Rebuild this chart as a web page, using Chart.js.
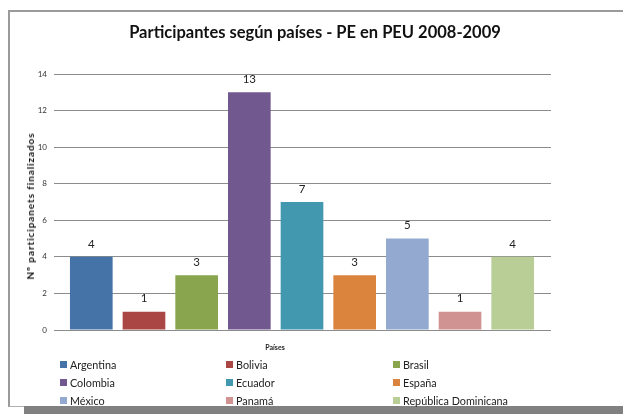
<!DOCTYPE html>
<html>
<head>
<meta charset="utf-8">
<script src="https://cdn.jsdelivr.net/npm/chart.js@4/dist/chart.umd.min.js"></script>
<style>
  html, body { margin: 0; padding: 0; background: #fff; }
  #wrap { position: relative; width: 623px; height: 414px; overflow: hidden; font-family: Lato, "Open Sans", sans-serif; }
  #frame { position: absolute; left: 8px; top: 10px; width: 640px; height: 394px; border-left: 2px solid #9a9a9a; border-top: 2px solid #9a9a9a; border-bottom: 1px solid #b0b0b0; }
  #shadow { position: absolute; left: 24px; top: 406px; width: 620px; height: 8px; background: #808080; }
  canvas { position: absolute; left: 0; top: 0; }
  #title { position: absolute; left: 15px; width: 600px; top: 21px; text-align: center; font-weight: bold; font-size: 16.5px; line-height: 22px; color: #111; white-space: nowrap; }
  #ytitle { position: absolute; left: 30px; top: 206px; transform: translate(-50%, -50%) rotate(-90deg); font-weight: bold; font-size: 10px; letter-spacing: 0.9px; color: #111; white-space: nowrap; }
  #xtitle { position: absolute; left: 275px; top: 347px; transform: translate(-50%, -50%); font-weight: bold; font-size: 7px; color: #222; white-space: nowrap; }
  #legend { position: absolute; left: 60px; top: 355px; display: grid; grid-template-columns: 166px 167px 167px; grid-auto-rows: 18px; }
  .item { display: flex; align-items: center; font-size: 10.8px; color: #222; }
  .sw { width: 7px; height: 7px; margin-right: 3px; flex: none; }
</style>
</head>
<body>
<div id="wrap">
  <div id="frame"></div>
  <div id="shadow"></div>
  <canvas id="c" width="623" height="414"></canvas>
  <div id="title"></div>
  <div id="ytitle"></div>
  <div id="xtitle"></div>
  <div id="legend"></div>
</div>
<script>
const countries = ["Argentina", "Bolivia", "Brasil", "Colombia", "Ecuador", "España", "México", "Panamá", "República Dominicana"];
const participants = [4, 1, 3, 13, 7, 3, 5, 1, 4];
const colors = ["#4572A7", "#AA4643", "#89A54E", "#71588F", "#4198AF", "#DB843D", "#93A9CF", "#D19392", "#B9CD96"];
const yTicks = [0, 2, 4, 6, 8, 10, 12, 14];
const chartTitle = "Participantes según países - PE en PEU 2008-2009";
const yTitle = "Nº participanets finalizados";
const xTitle = "Países";

document.getElementById('title').textContent = chartTitle;
document.getElementById('ytitle').textContent = yTitle;
document.getElementById('xtitle').textContent = xTitle;

const points = participants.map((v, i) => ({ x: i, y: v }));

const valueLabels = {
  id: 'valueLabels',
  afterDatasetsDraw(chart) {
    const ctx = chart.ctx;
    const meta = chart.getDatasetMeta(0);
    ctx.save();
    ctx.font = '11.5px Lato, sans-serif';
    ctx.fillStyle = '#222';
    ctx.textAlign = 'center';
    ctx.textBaseline = 'middle';
    meta.data.forEach((el, i) => {
      ctx.fillText(String(participants[i]), el.x, el.y - 13);
    });
    ctx.restore();
  }
};

new Chart(document.getElementById('c'), {
  type: 'bar',
  data: {
    datasets: [{
      data: points,
      backgroundColor: colors,
      borderWidth: 0,
      barPercentage: 0.81,
      categoryPercentage: 1
    }]
  },
  options: {
    responsive: false,
    animation: false,
    layout: { padding: { left: 0, right: 72, top: 74, bottom: 54 } },
    plugins: {
      legend: { display: false },
      tooltip: { enabled: false },
      title: { display: false }
    },
    scales: {
      x: {
        type: 'linear',
        offset: false,
        min: -0.708,
        max: 8.727,
        grid: { display: false },
        border: { display: false },
        ticks: { display: false },
        afterFit(scale) { scale.height = 30; }
      },
      y: {
        min: 0,
        max: 14,
        afterBuildTicks(scale) { scale.ticks = yTicks.map(v => ({ value: v })); },
        grid: { color: '#8c8c8c', lineWidth: 1, drawTicks: false },
        border: { display: false },
        ticks: {
          color: '#333',
          font: { family: 'Lato', size: 8 },
          padding: 7
        },
        afterFit(scale) { scale.width = 54; }
      }
    }
  },
  plugins: [valueLabels]
});

const legend = document.getElementById('legend');
countries.forEach((name, i) => {
  const it = document.createElement('div');
  it.className = 'item';
  const sw = document.createElement('span');
  sw.className = 'sw';
  sw.style.background = colors[i];
  const tx = document.createElement('span');
  tx.textContent = name;
  it.appendChild(sw);
  it.appendChild(tx);
  legend.appendChild(it);
});
</script>
</body>
</html>
